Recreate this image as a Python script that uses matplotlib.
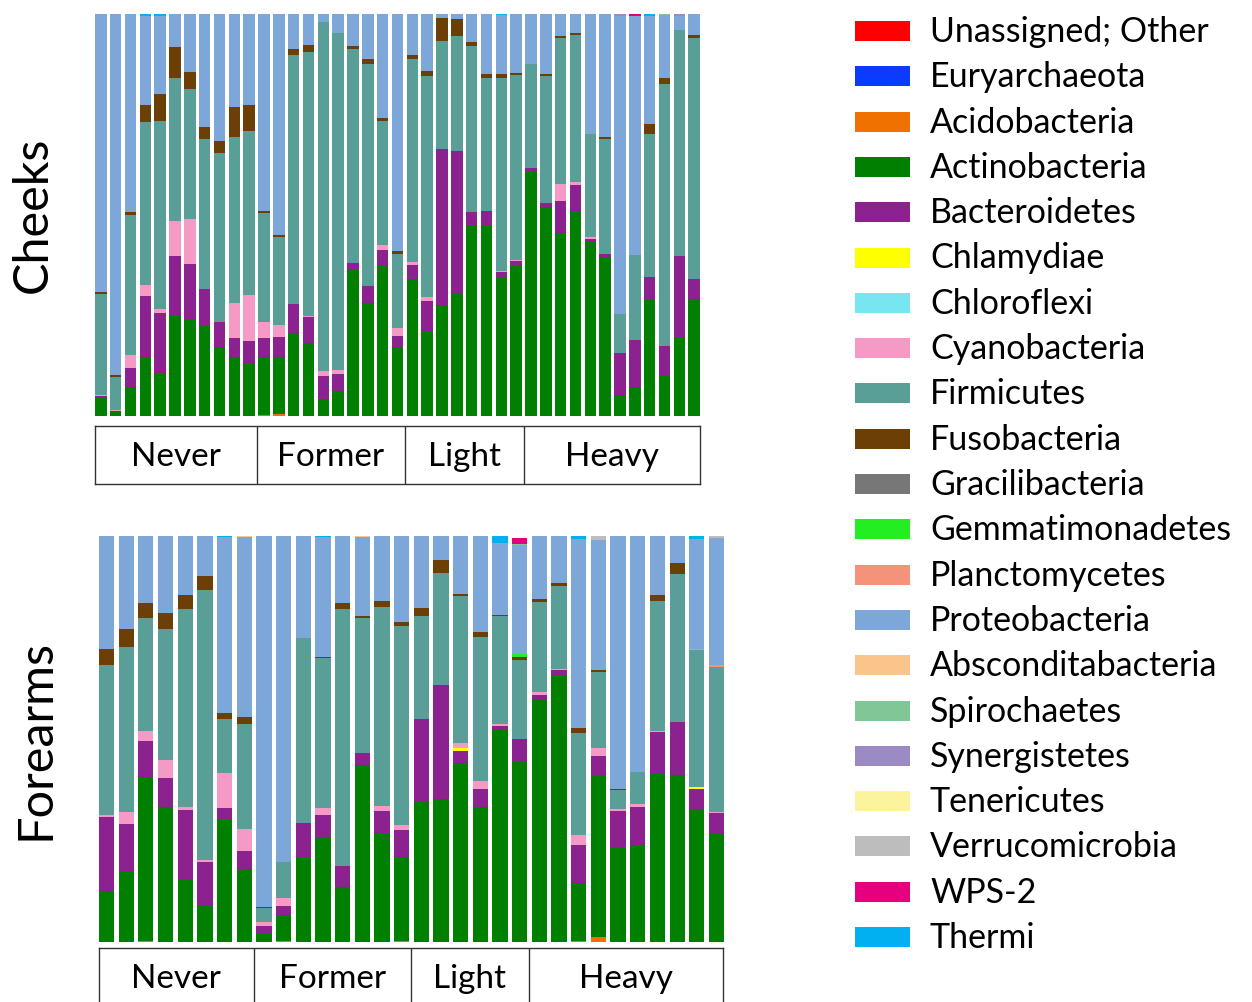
import matplotlib
matplotlib.use("Agg")
import matplotlib.pyplot as plt
from matplotlib.patches import Rectangle
import numpy as np

plt.rcParams['font.family'] = ['Lato', 'DejaVu Sans']

taxa = ["Unassigned; Other", "Euryarchaeota", "Acidobacteria", "Actinobacteria",
        "Bacteroidetes", "Chlamydiae", "Chloroflexi", "Cyanobacteria", "Firmicutes",
        "Fusobacteria", "Gracilibacteria", "Gemmatimonadetes", "Planctomycetes",
        "Proteobacteria", "Absconditabacteria", "Spirochaetes", "Synergistetes",
        "Tenericutes", "Verrucomicrobia", "WPS-2", "Thermi"]
colors = ["#FF0000", "#0A3BFF", "#F07000", "#007F00", "#8C2290", "#FFFF00",
          "#78E6F0", "#F49AC4", "#5A9E98", "#6B3F05", "#777777", "#22EE22",
          "#F4937A", "#7DA7D9", "#F9C58A", "#7FC797", "#9C8AC4", "#FBF49C",
          "#BDBDBD", "#E6007E", "#00B0F0"]

# ---------------- Cheeks (41 samples) ----------------
cheeks_groups = ["Never", "Former", "Light", "Heavy"]
cheeks_group_sizes = [11, 10, 8, 12]
cheeks_act = [4.4, 1.2, 7.3, 14.8, 10.6, 24.8, 23.9, 22.7, 17.1, 14.6, 13.1,
              14.3, 14.2, 20.6, 18.1, 4.2, 6.3, 36.2, 28.1, 37.4, 17.1,
              34.2, 20.9, 27.4, 30.6, 47.2, 47.2, 34.3, 37.4,
              60.6, 51.9, 45.5, 50.8, 43.3, 39.5, 5.2, 7.3, 29.1, 10.0, 19.4, 29.2]
cheeks_bac = [0.5, 0.0, 4.6, 15.0, 15.0, 15.0, 14.0, 8.9, 6.4, 4.7, 5.6,
              4.9, 5.1, 7.3, 6.5, 5.8, 4.2, 1.8, 4.2, 3.8, 2.7,
              3.3, 7.6, 38.9, 35.2, 3.5, 3.7, 1.4, 1.1,
              1.1, 1.2, 7.9, 6.6, 0.7, 0.8, 10.5, 11.5, 5.6, 7.3, 20.5, 5.0]
cheeks_cya = [0.3, 0.3, 3.3, 2.9, 1.1, 8.6, 11.0, 0.0, 0.0, 8.7, 11.5,
              3.8, 2.9, 0.0, 0.3, 1.1, 1.0, 0.0, 0.0, 1.3, 2.1,
              0.7, 1.0, 0.0, 0.0, 0.0, 0.0, 0.3, 0.4,
              0.0, 0.0, 4.2, 0.9, 0.5, 0.0, 0.0, 0.0, 0.0, 0.0, 0.0, 0.0]
cheeks_fir = [25.2, 8.3, 34.9, 40.4, 46.7, 35.8, 32.4, 37.4, 41.8, 41.5, 40.7,
              27.2, 22.0, 61.8, 65.6, 86.8, 83.7, 53.3, 55.2, 30.8, 18.5,
              50.7, 55.0, 27.1, 28.7, 41.3, 33.2, 48.2, 45.9,
              25.9, 31.6, 36.4, 36.6, 25.7, 28.7, 9.6, 21.3, 35.5, 65.4, 56.1, 59.9]
cheeks_fus = [0.4, 0.3, 0.6, 4.2, 6.6, 7.7, 4.3, 2.9, 3.1, 7.3, 6.4,
              0.5, 0.4, 1.7, 1.7, 0.0, 0.0, 0.8, 1.2, 0.8, 0.6,
              1.0, 1.4, 5.5, 4.3, 1.0, 1.0, 0.8, 0.4,
              0.0, 0.4, 0.5, 0.4, 0.0, 0.3, 0.0, 0.0, 2.5, 1.4, 0.0, 0.8]
cheeks_pro = [69.2, 89.9, 49.3, 22.3, 19.6, 8.1, 14.4, 28.1, 31.6, 23.2, 22.7,
              49.0, 55.0, 8.6, 7.8, 2.1, 4.8, 7.9, 11.3, 25.9, 59.0,
              10.1, 14.1, 1.1, 1.2, 7.0, 14.9, 14.7, 14.8,
              12.4, 14.9, 5.5, 4.7, 29.8, 30.7, 74.3, 59.3, 26.9, 15.6, 3.6, 5.1]
# minor taxa: {sample index: percent}
cheeks_acido = {11: 0.3, 12: 0.4}
cheeks_thermi = {3: 0.4, 4: 0.4, 27: 0.3, 37: 0.4}
cheeks_synerg = {35: 0.4, 39: 0.4}
cheeks_wps2 = {36: 0.6}
cheeks_spiro = {38: 0.3}

# ---------------- Forearms (32 samples) ----------------
fore_groups = ["Never", "Former", "Light", "Heavy"]
fore_group_sizes = [8, 8, 6, 10]
fore_act = [12.6, 17.3, 40.4, 33.2, 15.3, 8.9, 30.0, 17.7,
            2.1, 6.3, 20.9, 25.5, 13.6, 43.6, 26.6, 20.7,
            34.6, 35.1, 44.0, 33.2, 52.1, 44.7,
            59.6, 65.6, 14.4, 39.7, 23.2, 23.9, 41.1, 40.8, 32.8, 26.5]
fore_bac = [18.1, 11.7, 8.9, 7.1, 17.1, 10.7, 3.1, 4.8,
            1.8, 2.3, 8.4, 5.9, 5.2, 3.0, 5.7, 6.6,
            20.4, 28.2, 3.1, 4.6, 1.2, 5.3,
            1.3, 1.4, 9.3, 4.8, 9.1, 9.3, 10.3, 13.1, 4.9, 5.3]
fore_cya = [0.6, 3.0, 2.4, 4.6, 0.8, 0.7, 8.5, 5.4,
            1.0, 1.9, 0.0, 1.6, 0.0, 0.0, 1.3, 1.3,
            0.0, 0.0, 1.0, 1.8, 0.3, 0.0,
            0.7, 0.2, 2.4, 2.1, 0.5, 0.7, 0.3, 0.0, 0.0, 0.2]
fore_fir = [36.9, 40.6, 27.8, 32.3, 48.8, 66.5, 13.3, 25.9,
            3.4, 8.8, 45.7, 36.9, 63.2, 33.3, 49.0, 48.9,
            25.2, 27.5, 36.4, 35.5, 26.8, 19.5,
            22.2, 20.4, 25.3, 18.6, 4.6, 7.9, 31.9, 36.5, 33.5, 35.7]
fore_fus = [3.9, 4.6, 3.7, 3.9, 3.4, 3.4, 1.5, 1.6,
            0.2, 0.0, 0.0, 0.3, 1.4, 0.5, 1.3, 1.1,
            2.1, 3.3, 0.4, 1.2, 0.2, 0.8,
            0.6, 0.8, 1.0, 0.6, 0.3, 0.0, 1.6, 2.6, 0.0, 0.0]
fore_pro = [27.9, 22.8, 16.5, 18.9, 14.6, 9.8, 43.3, 44.3,
            91.5, 80.4, 25.0, 29.5, 16.6, 19.3, 16.1, 21.1,
            17.7, 5.9, 14.3, 23.7, 17.6, 26.8,
            15.6, 11.6, 46.5, 31.9, 62.3, 58.2, 14.5, 6.7, 27.1, 31.3]
fore_unassigned = {28: 0.3, 29: 0.3}
fore_acido = {2: 0.3, 9: 0.3, 15: 0.3, 24: 0.2, 25: 1.3}
fore_chlam = {18: 0.8, 30: 0.6}
fore_gemma = {21: 0.7, 24: 0.2}
fore_planc = {30: 0.4, 31: 0.6}
fore_absc = {7: 0.3, 13: 0.3}
fore_spiro = {21: 0.3}
fore_verruco = {25: 1.0, 31: 0.4}
fore_wps2 = {21: 1.5}
fore_thermi = {6: 0.3, 11: 0.3, 20: 1.8, 24: 0.7, 30: 0.7}


def build(n, major, minor):
    table = {t: np.zeros(n) for t in taxa}
    for t, vals in major.items():
        table[t] = np.asarray(vals, dtype=float)
    for t, d in minor.items():
        for i, v in d.items():
            table[t][i] = v
    return table


cheeks = build(41, {"Actinobacteria": cheeks_act, "Bacteroidetes": cheeks_bac,
                    "Cyanobacteria": cheeks_cya, "Firmicutes": cheeks_fir,
                    "Fusobacteria": cheeks_fus, "Proteobacteria": cheeks_pro},
               {"Acidobacteria": cheeks_acido, "Thermi": cheeks_thermi,
                "Synergistetes": cheeks_synerg, "WPS-2": cheeks_wps2,
                "Spirochaetes": cheeks_spiro})
fore = build(32, {"Actinobacteria": fore_act, "Bacteroidetes": fore_bac,
                  "Cyanobacteria": fore_cya, "Firmicutes": fore_fir,
                  "Fusobacteria": fore_fus, "Proteobacteria": fore_pro},
             {"Unassigned; Other": fore_unassigned, "Acidobacteria": fore_acido,
              "Chlamydiae": fore_chlam, "Gemmatimonadetes": fore_gemma,
              "Planctomycetes": fore_planc, "Absconditabacteria": fore_absc,
              "Spirochaetes": fore_spiro, "Verrucomicrobia": fore_verruco,
              "WPS-2": fore_wps2, "Thermi": fore_thermi})

W, H = 1252, 1002
fig = plt.figure(figsize=(W / 100, H / 100), dpi=100)


def px_axes(x0, y0, x1, y1):
    return fig.add_axes([x0 / W, 1 - y1 / H, (x1 - x0) / W, (y1 - y0) / H])


def draw_panel(bar_box, grp_box, table, n, groups, sizes, label, label_x,
               width, text_y):
    ax = px_axes(*bar_box)
    x = np.arange(n)
    bottom = np.zeros(n)
    for t, c in zip(taxa, colors):
        v = table[t]
        ax.bar(x, v, bottom=bottom, color=c, width=width, linewidth=0)
        bottom += v
    ax.set_xlim(-width / 2, n - 1 + width / 2)
    ax.set_ylim(0, bottom.max())
    ax.axis("off")

    gx = px_axes(*grp_box)
    gx.set_xlim(-width / 2, n - 1 + width / 2)
    gx.set_ylim(grp_box[3], grp_box[1])
    gx.set_xticks([])
    gx.set_yticks([])
    for s in gx.spines.values():
        s.set_linewidth(1.0)
        s.set_color("#333333")
    edges = np.concatenate([[-0.5], np.cumsum(sizes) - 0.5])
    edges[0] = -width / 2
    edges[-1] = n - 1 + width / 2
    for e in edges[1:-1]:
        gx.axvline(e, color="#333333", lw=1.0)
    for g, a, b in zip(groups, edges[:-1], edges[1:]):
        gx.text((a + b) / 2, text_y, g, ha="center", va="center", fontsize=24)

    yc = (bar_box[1] + bar_box[3]) / 2
    fig.text(label_x / W, 1 - yc / H, label, rotation=90, ha="center",
             va="center", fontsize=35)


draw_panel((95, 14, 700, 416), (95, 426, 700, 484), cheeks, 41,
           cheeks_groups, cheeks_group_sizes, "Cheeks", 33, 0.78, 457)
draw_panel((99, 536, 724, 942), (99, 948, 723, 1010), fore, 32,
           fore_groups, fore_group_sizes, "Forearms", 36, 0.77, 979)

# legend
lg = fig.add_axes([0, 0, 1, 1])
lg.set_xlim(0, W)
lg.set_ylim(H, 0)
lg.axis("off")
for i, (t, c) in enumerate(zip(taxa, colors)):
    yc = 31 + 45.3 * i
    lg.add_patch(Rectangle((855, yc - 10), 55, 20, color=c, lw=0))
    lg.text(930, yc + 1, t, ha="left", va="center", fontsize=24.5)

fig.savefig("out.png", dpi=100)
